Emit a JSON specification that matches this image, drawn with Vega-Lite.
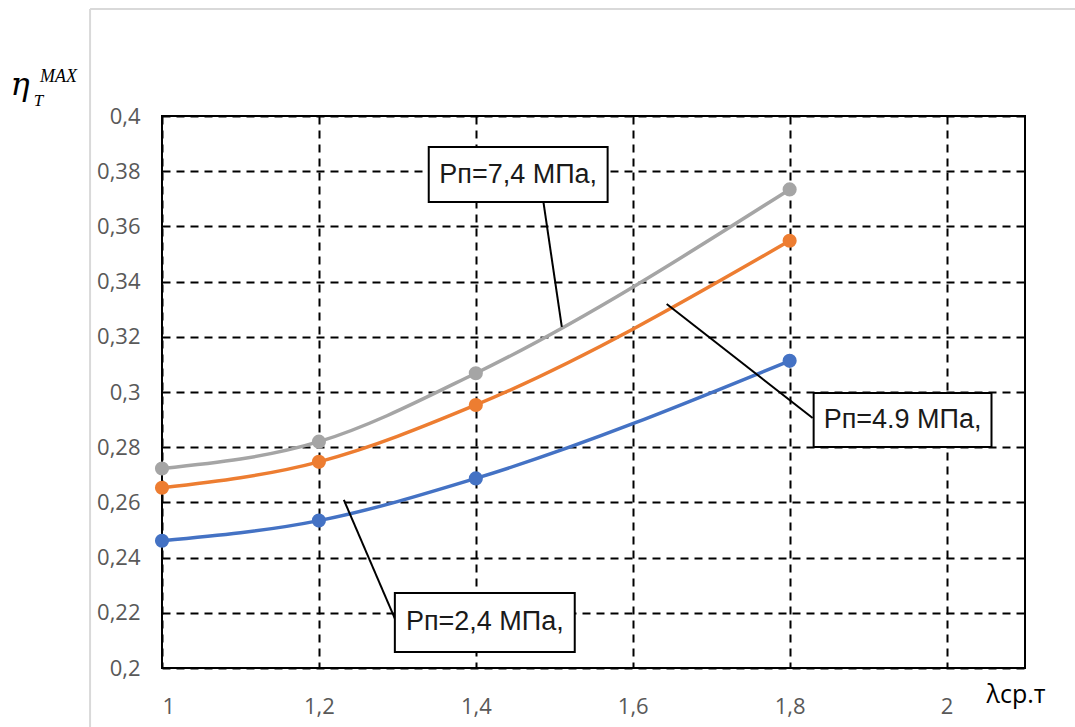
{
  "$schema": "https://vega.github.io/schema/vega-lite/v6.json",
  "autosize": "none",
  "width": 863,
  "height": 552,
  "padding": {"left": 162, "top": 116, "right": 50, "bottom": 59},
  "background": "white",
  "config": {
    "locale": {"number": {"decimal": ",", "thousands": " ", "grouping": [3], "currency": ["", ""]}},
    "view": {"stroke": "black", "strokeWidth": 2},
    "axis": {
      "grid": true, "gridColor": "black", "gridDash": [8, 6], "gridWidth": 2, "gridOpacity": 1,
      "domain": false, "ticks": false, "title": null,
      "labelFont": "Open Sans", "labelFontSize": 22, "labelColor": "#595959"
    }
  },
  "datasets": {
    "series": [
      {"lam": 1.0, "eta": 0.2461, "p": "2,4"},
      {"lam": 1.2, "eta": 0.2534, "p": "2,4"},
      {"lam": 1.4, "eta": 0.2687, "p": "2,4"},
      {"lam": 1.8, "eta": 0.3113, "p": "2,4"},
      {"lam": 1.0, "eta": 0.2653, "p": "4,9"},
      {"lam": 1.2, "eta": 0.2747, "p": "4,9"},
      {"lam": 1.4, "eta": 0.2953, "p": "4,9"},
      {"lam": 1.8, "eta": 0.3548, "p": "4,9"},
      {"lam": 1.0, "eta": 0.2723, "p": "7,4"},
      {"lam": 1.2, "eta": 0.2820, "p": "7,4"},
      {"lam": 1.4, "eta": 0.3068, "p": "7,4"},
      {"lam": 1.8, "eta": 0.3734, "p": "7,4"}
    ],
    "notes": [
      {"text": "Рп=7,4 МПа,", "x1": 1.340, "x2": 1.568, "y1": 0.3688, "y2": 0.3888, "lx1": 1.4854, "ly1": 0.3703, "lx2": 1.5096, "ly2": 0.3236},
      {"text": "Рп=4.9 МПа,", "x1": 1.8306, "x2": 2.0573, "y1": 0.2801, "y2": 0.2996, "lx1": 1.8293, "ly1": 0.2906, "lx2": 1.6433, "ly2": 0.3319},
      {"text": "Рп=2,4 МПа,", "x1": 1.2968, "x2": 1.5261, "y1": 0.2058, "y2": 0.2272, "lx1": 1.3019, "ly1": 0.2145, "lx2": 1.2318, "ly2": 0.2609}
    ]
  },
  "encoding": {},
  "layer": [
    {
      "data": {"values": [{}]},
      "mark": {"type": "rule", "color": "#d9d9d9", "strokeWidth": 2, "clip": false},
      "encoding": {
        "x": {"datum": 0.9083, "type": "quantitative", "scale": {"domain": [1, 2.1], "nice": false, "zero": false}},
        "y": {"datum": 0.4388, "type": "quantitative", "scale": {"domain": [0.2, 0.4], "nice": false, "zero": false}},
        "y2": {"datum": 0.17}
      }
    },
    {
      "data": {"values": [{}]},
      "mark": {"type": "rule", "color": "#d9d9d9", "strokeWidth": 2, "clip": false},
      "encoding": {
        "x": {"datum": 0.9083, "type": "quantitative"},
        "x2": {"datum": 2.2},
        "y": {"datum": 0.4388, "type": "quantitative"}
      }
    },
    {
      "data": {"name": "series"},
      "mark": {"type": "line", "interpolate": "monotone", "strokeWidth": 3.5},
      "encoding": {
        "x": {"field": "lam", "type": "quantitative", "scale": {"domain": [1, 2.1], "nice": false, "zero": false},
              "axis": {"values": [1, 1.2, 1.4, 1.6, 1.8, 2], "format": "~g", "labelPadding": 28}},
        "y": {"field": "eta", "type": "quantitative", "scale": {"domain": [0.2, 0.4], "nice": false, "zero": false},
              "axis": {"values": [0.2, 0.22, 0.24, 0.26, 0.28, 0.3, 0.32, 0.34, 0.36, 0.38, 0.4], "format": "~g", "labelPadding": 22}},
        "color": {"field": "p", "type": "nominal", "legend": null,
                  "scale": {"domain": ["2,4", "4,9", "7,4"], "range": ["#4472C4", "#ED7D31", "#A5A5A5"]}}
      }
    },
    {
      "data": {"name": "series"},
      "mark": {"type": "point", "filled": true, "opacity": 1, "size": 200},
      "encoding": {
        "x": {"field": "lam", "type": "quantitative"},
        "y": {"field": "eta", "type": "quantitative"},
        "color": {"field": "p", "type": "nominal", "legend": null}
      }
    },
    {
      "data": {"name": "notes"},
      "mark": {"type": "rule", "color": "black", "strokeWidth": 2},
      "encoding": {
        "x": {"field": "lx1", "type": "quantitative"},
        "y": {"field": "ly1", "type": "quantitative"},
        "x2": {"field": "lx2"},
        "y2": {"field": "ly2"}
      }
    },
    {
      "data": {"name": "notes"},
      "mark": {"type": "rect", "fill": "white", "stroke": "black", "strokeWidth": 2},
      "encoding": {
        "x": {"field": "x1", "type": "quantitative"},
        "x2": {"field": "x2"},
        "y": {"field": "y1", "type": "quantitative"},
        "y2": {"field": "y2"}
      }
    },
    {
      "data": {"name": "notes"},
      "transform": [{"calculate": "(datum.x1 + datum.x2) / 2", "as": "cx"}, {"calculate": "(datum.y1 + datum.y2) / 2", "as": "cy"}],
      "mark": {"type": "text", "font": "Liberation Sans", "fontSize": 27, "color": "#1a1a1a", "align": "center", "baseline": "middle"},
      "encoding": {
        "x": {"field": "cx", "type": "quantitative"},
        "y": {"field": "cy", "type": "quantitative"},
        "text": {"field": "text"}
      }
    },
    {
      "data": {"values": [{"t": "η", "x": 0.807, "y": 0.4076}]},
      "mark": {"type": "text", "font": "DejaVu Serif", "fontStyle": "italic", "fontSize": 32, "align": "left", "baseline": "alphabetic", "color": "black", "clip": false},
      "encoding": {"x": {"field": "x", "type": "quantitative"}, "y": {"field": "y", "type": "quantitative"}, "text": {"field": "t"}}
    },
    {
      "data": {"values": [{"t": "MAX", "x": 0.8445, "y": 0.4122}]},
      "mark": {"type": "text", "font": "Liberation Serif", "fontStyle": "italic", "fontSize": 18, "align": "left", "baseline": "alphabetic", "color": "black", "clip": false},
      "encoding": {"x": {"field": "x", "type": "quantitative"}, "y": {"field": "y", "type": "quantitative"}, "text": {"field": "t"}}
    },
    {
      "data": {"values": [{"t": "T", "x": 0.8365, "y": 0.4038}]},
      "mark": {"type": "text", "font": "Liberation Serif", "fontStyle": "italic", "fontSize": 17, "align": "left", "baseline": "alphabetic", "color": "black", "clip": false},
      "encoding": {"x": {"field": "x", "type": "quantitative"}, "y": {"field": "y", "type": "quantitative"}, "text": {"field": "t"}}
    },
    {
      "data": {"values": [{"t": "λср.т", "x": 2.051, "y": 0.1873}]},
      "mark": {"type": "text", "font": "Open Sans", "fontSize": 25, "align": "left", "baseline": "alphabetic", "color": "black", "clip": false},
      "encoding": {
        "x": {"field": "x", "type": "quantitative"},
        "y": {"field": "y", "type": "quantitative"},
        "text": {"field": "t"}
      }
    }
  ]
}
